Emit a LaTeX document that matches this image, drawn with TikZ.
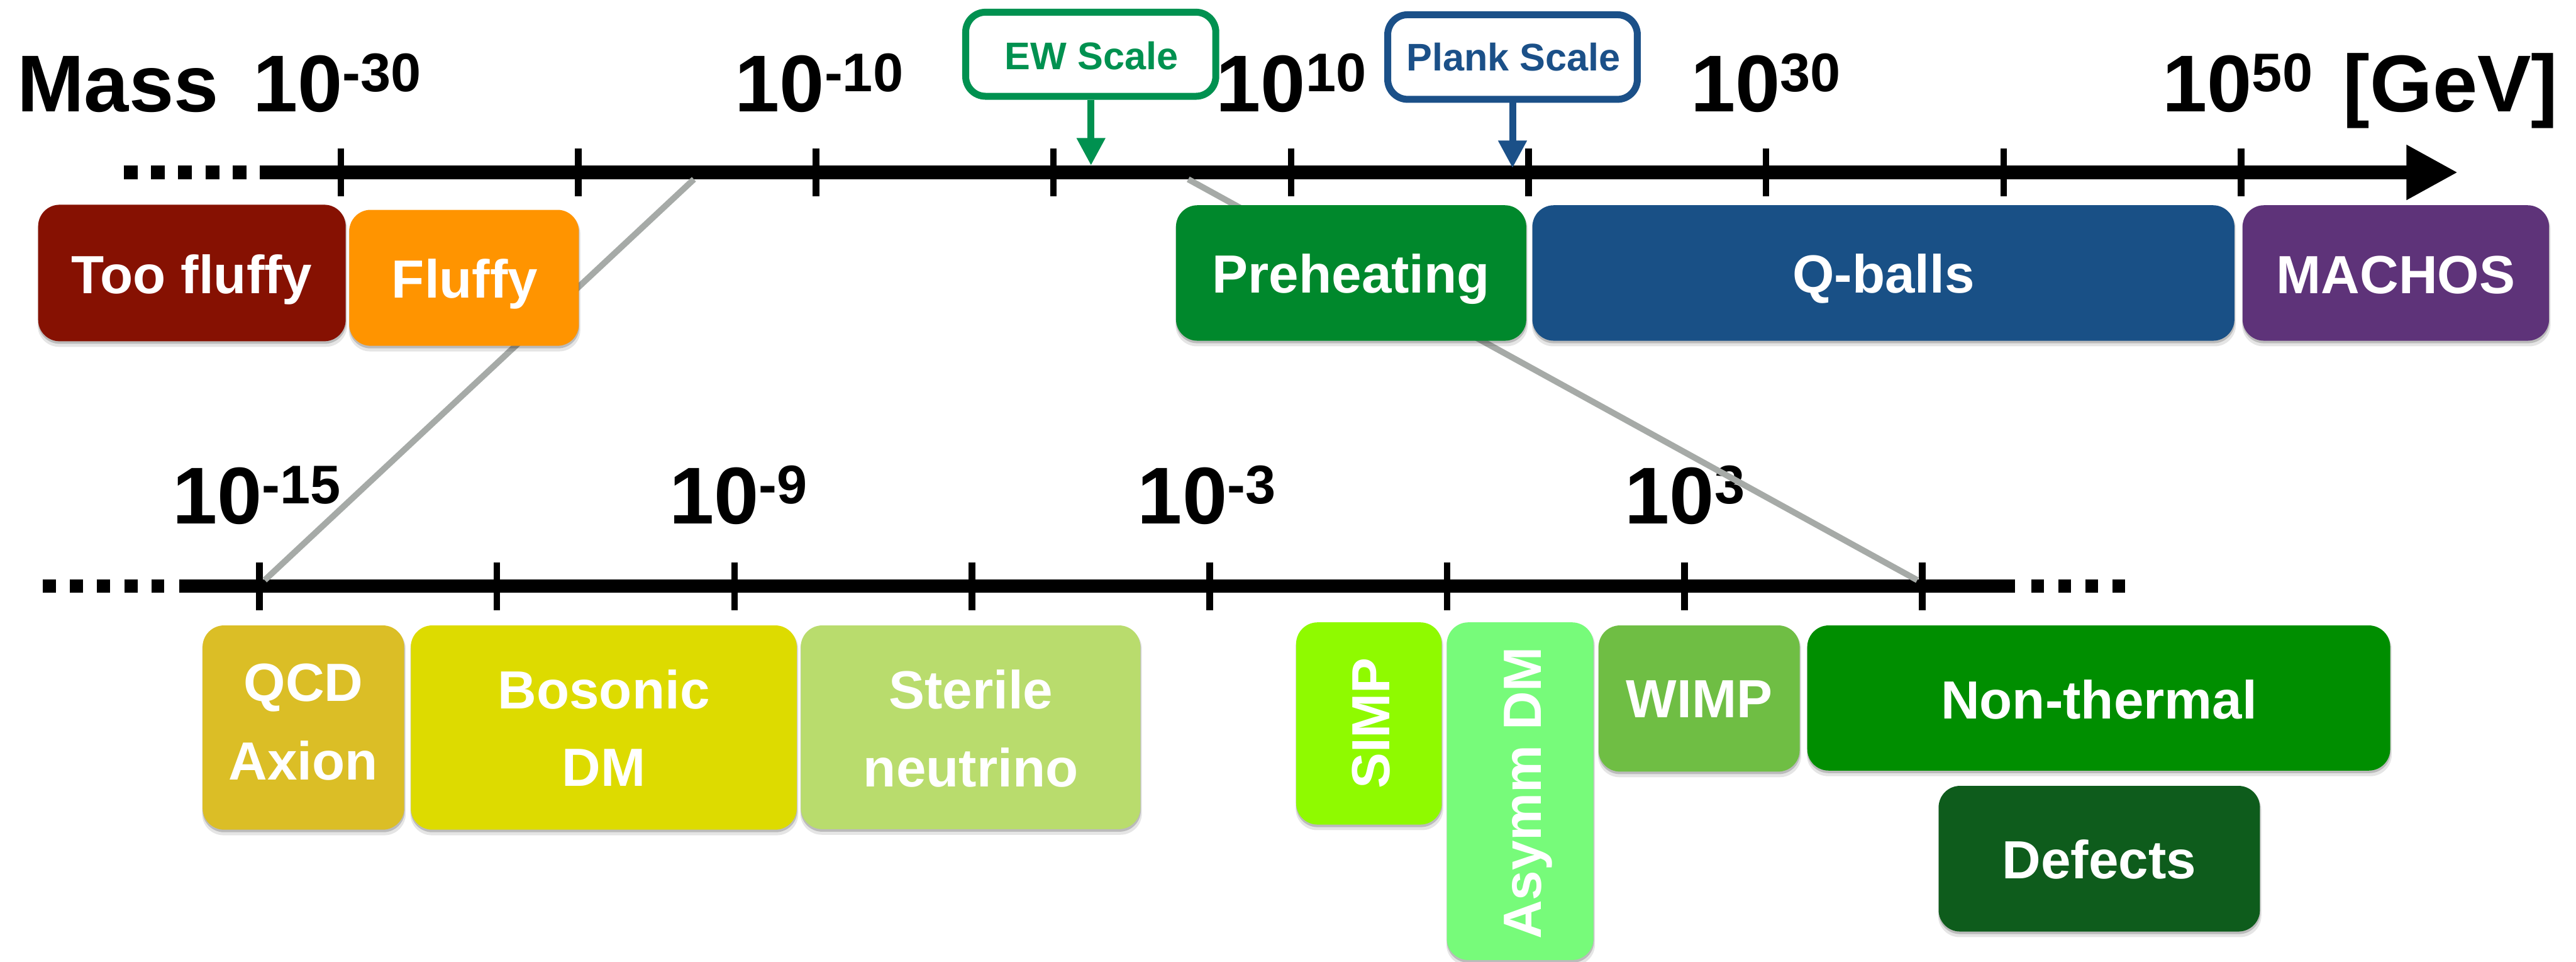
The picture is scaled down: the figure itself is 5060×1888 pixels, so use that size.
\documentclass[tikz,border=0pt]{standalone}
\usepackage{fontspec}
\setmainfont{Liberation Sans}
\usetikzlibrary{arrows.meta}

% box colours
\definecolor{cTooFluffy}{HTML}{861102}
\definecolor{cFluffy}{HTML}{FF9400}
\definecolor{cPreheat}{HTML}{00882C}
\definecolor{cQballs}{HTML}{195086}
\definecolor{cMachos}{HTML}{5E3379}
\definecolor{cQCD}{HTML}{DBBE26}
\definecolor{cBosonic}{HTML}{DDDB00}
\definecolor{cSterile}{HTML}{B9DC6D}
\definecolor{cSIMP}{HTML}{8FFA00}
\definecolor{cAsymm}{HTML}{77FB7A}
\definecolor{cWIMP}{HTML}{6FBE44}
\definecolor{cNonTh}{HTML}{008E00}
\definecolor{cDefects}{HTML}{0E5C1C}
\definecolor{cEW}{HTML}{009150}
\definecolor{cPlank}{HTML}{1B5088}
\definecolor{cLink}{HTML}{A6AAA7}

% rounded box with a soft drop shadow: name, x1, y1, x2, y2, colour
\newcommand\dmbox[6]{%
  \fill[black, opacity=.10, rounded corners=0.42cm] (#2-1,#3+4) rectangle (#4+3,#5+11);
  \fill[black, opacity=.18, rounded corners=0.42cm] (#2,#3+3) rectangle (#4+1,#5+5);
  \node[dmbox, fill=#6, minimum width={(#4-#2)*0.01cm}, minimum height={(#5-#3)*0.01cm}]
    (#1) at ({(#2+#4)/2},{(#3+#5)/2}) {};
}
% power-of-ten label: node name, position, exponent
\newcommand\tenpow[3]{%
  \node[biglbl] (#1) at (#2) {10\raisebox{11.3pt}{\fontsize{30.4}{36}\selectfont #3}};
}

\begin{document}
\begin{tikzpicture}[x=0.01cm, y=-0.01cm,
  dmbox/.style={rounded corners=0.42cm, inner sep=0pt, draw=none},
  boxlbl/.style={text=white, font=\fontsize{30}{36}\selectfont\bfseries, inner sep=0pt, anchor=base},
  biglbl/.style={font=\fontsize{45}{54}\selectfont\bfseries, inner sep=0pt, anchor=base west},
  scalelbl/.style={font=\fontsize{21.5}{26}\selectfont\bfseries, inner sep=0pt, anchor=base},
  scalebox/.style={line width=0.136cm, rounded corners=0.39cm, fill=white, inner sep=0pt},
  axisline/.style={line width=0.27cm},
  tickmark/.style={line width=0.13cm},
  dotted axis/.style={line width=0.27cm, dash pattern=on 0.27cm off 0.265cm},
  link/.style={draw=cLink, line width=0.12cm},
  pointer/.style={line width=0.136cm, -{Triangle[length=0.54cm, width=0.53cm]}}
]
\useasboundingbox (0,0) rectangle (5060,1888);
\fill[white] (0,0) rectangle (5060,1888);

% ---------- upper mass axis ----------
\coordinate (axL) at (510,338.5);
\coordinate (axR) at (4828,338.5);
\draw[dotted axis] (243,338.5) -- (484,338.5);
\draw[axisline, -{Triangle[length=1.01cm, width=1.01cm]}] (axL) -- (axR);
\foreach \k in {0,...,8}
  \draw[tickmark] ({669.5+466.6*\k},292) -- ++(0,93);

\node[biglbl] (mass) at (33,219) {Mass};
\tenpow{pA}{496,219}{-30}
\tenpow{pB}{1443,219}{-10}
\tenpow{pC}{2388,219}{10}
\tenpow{pD}{3320,219}{30}
\tenpow{pE}{4247,219}{50}
\node[biglbl] (unit) at (4602,219) {[GeV]};

% ---------- lower (zoomed) axis ----------
\coordinate (bxL) at (352,1151);
\coordinate (bxR) at (3958,1151);
\draw[line width=0.26cm, dash pattern=on 0.26cm off 0.273cm] (84,1151) -- (323,1151);
\draw[line width=0.26cm] (bxL) -- (bxR);
\draw[line width=0.26cm, dash pattern=on 0.25cm off 0.28cm] (3990,1151) -- (4176,1151);
\foreach \k in {0,...,7}
  \draw[tickmark] ({509.5+466.6*\k},1105) -- ++(0,93);

\tenpow{qA}{338,1029}{-15}
\tenpow{qB}{1314,1029}{-9}
\tenpow{qC}{2234,1029}{-3}
\tenpow{qD}{3191,1029}{3}

% ---------- zoom connectors ----------
\coordinate (zTopL) at (1363,352);
\coordinate (zBotL) at (520,1139);
\coordinate (zTopR) at (2334,352);
\coordinate (zBotR) at (3766,1139);
\draw[link] (zTopL) -- (zBotL);
\draw[link] (zTopR) -- (zBotR);

% ---------- scale markers ----------
\node[scalebox, draw=cEW, minimum width=4.91cm, minimum height=1.65cm] (ew) at (2142.5,106.5) {};
\node[scalelbl, text=cEW] (ewT) at (2144,136) {EW Scale};
\coordinate (ewPt) at (2143,325);
\draw[pointer, cEW] (ew.south -| ewPt) -- (ewPt);

\node[scalebox, draw=cPlank, minimum width=4.90cm, minimum height=1.66cm] (plank) at (2971,112) {};
\node[scalelbl, text=cPlank] (plankT) at (2973,139) {Plank Scale};
\coordinate (plankPt) at (2971,330);
\draw[pointer, cPlank] (plank.south) -- (plankPt);

% ---------- upper boxes ----------
\dmbox{tooFluffy}{75}{402}{679}{670}{cTooFluffy}
\dmbox{fluffy}{686}{412}{1137}{679}{cFluffy}
\dmbox{preheat}{2310}{403}{2998}{669}{cPreheat}
\dmbox{qballs}{3010}{403}{4389}{669}{cQballs}
\dmbox{machos}{4405}{403}{5007}{669}{cMachos}

\node[boxlbl] (tooFluffyT) at (377,576) {Too fluffy};
\node[boxlbl] (fluffyT) at (913,585) {Fluffy};
\node[boxlbl] (preheatT) at (2654,574.5) {Preheating};
\node[boxlbl] (qballsT) at (3700,574.5) {Q-balls};
\node[boxlbl] (machosT) at (4706,576) {MACHOS};

% ---------- lower boxes ----------
\dmbox{qcd}{398}{1228}{794}{1629}{cQCD}
\dmbox{bosonic}{807}{1228}{1565}{1629}{cBosonic}
\dmbox{sterile}{1573}{1228}{2240}{1628}{cSterile}
\dmbox{simp}{2546}{1222}{2832}{1619}{cSIMP}
\dmbox{asymm}{2842}{1222}{3130}{1885}{cAsymm}
\dmbox{wimp}{3140}{1228}{3535}{1515}{cWIMP}
\dmbox{nonthermal}{3550}{1228}{4695}{1513}{cNonTh}
\dmbox{defects}{3808}{1543}{4439}{1829}{cDefects}

\node[boxlbl] (qcdT) at (596,1377) {QCD};
\node[boxlbl] (qcdT2) at (596,1531) {Axion};
\node[boxlbl] (bosonicT) at (1186,1391) {Bosonic};
\node[boxlbl] (bosonicT2) at (1186,1544) {DM};
\node[boxlbl] (sterileT) at (1907,1391) {Sterile};
\node[boxlbl] (sterileT2) at (1907,1545) {neutrino};
\node[boxlbl, rotate=90] (simpT) at (2730,1420) {SIMP};
\node[boxlbl, rotate=90] (asymmT) at (3027,1557) {Asymm DM};
\node[boxlbl] (wimpT) at (3338,1409) {WIMP};
\node[boxlbl] (nonthermalT) at (4123,1411) {Non-thermal};
\node[boxlbl] (defectsT) at (4123.5,1725) {Defects};
\end{tikzpicture}
\end{document}
